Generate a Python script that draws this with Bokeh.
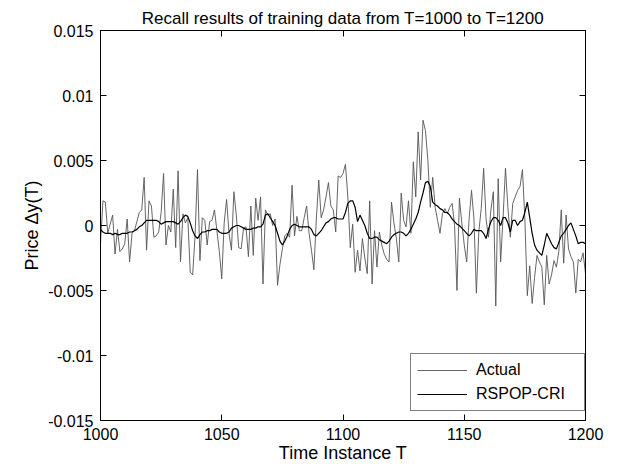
from bokeh.plotting import figure
from bokeh.models import (Range1d, FixedTicker, LinearAxis, Legend, LegendItem,
                          ColumnDataSource, CustomLabelingPolicy)
from bokeh.embed import file_html
from bokeh.resources import INLINE

# ---------------- data ----------------
time_instance = list(range(1000, 1201))

actual = [
    -0.0014, 0.0019, 0.0018, -0.0006, 0.0001, 0.0008, -0.0022, -0.0003, -0.0020, -0.0018,
    -0.0014, 0.0005, -0.0028, -0.0006, -0.0004, 0.0003, 0.0010, 0.0012, 0.0037, -0.0019,
    0.0019, 0.0015, -0.0009, -0.0008, -0.0005, 0.0010, 0.0040, -0.0015, 0.0000, -0.0005,
    0.0028, -0.0017, 0.0042, -0.0028, 0.0009, 0.0002, 0.0006, -0.0036, -0.0038, -0.0008,
    0.0043, -0.0027, 0.0006, 0.0004, -0.0015, 0.0003, 0.0004, 0.0012, -0.0004, -0.0020,
    -0.0041, 0.0002, 0.0020, -0.0006, -0.0019, 0.0026, 0.0008, -0.0017, -0.0018, -0.0002,
    -0.0001, -0.0024, 0.0015, -0.0023, 0.0021, 0.0004, 0.0022, -0.0045, 0.0012, 0.0008,
    0.0009, 0.0000, 0.0005, -0.0046, -0.0030, -0.0018, -0.0008, -0.0006, -0.0009, 0.0031,
    -0.0008, 0.0007, -0.0004, -0.0004, 0.0006, 0.0015, -0.0006, -0.0019, -0.0034, 0.0005,
    0.0035, 0.0006, 0.0012, 0.0022, 0.0033, 0.0015, 0.0012, -0.0005, 0.0038, 0.0037,
    0.0040, 0.0047, 0.0022, -0.0017, 0.0001, -0.0036, -0.0019, -0.0035, -0.0010, -0.0025,
    -0.0037, 0.0019, -0.0045, -0.0004, -0.0032, -0.0005, -0.0015, -0.0022, -0.0026, -0.0028,
    0.0018, 0.0002, -0.0010, -0.0028, 0.0025, 0.0004, -0.0001, 0.0019, -0.0006, 0.0049,
    0.0022, 0.0072, 0.0035, 0.0081, 0.0073, 0.0050, 0.0014, 0.0037, 0.0014, 0.0004,
    -0.0006, 0.0009, 0.0013, 0.0009, 0.0014, 0.0017, 0.0000, -0.0050, 0.0021, 0.0002,
    -0.0015, -0.0028, 0.0005, 0.0027, 0.0005, -0.0052, -0.0005, 0.0013, 0.0044, 0.0005,
    -0.0009, 0.0012, 0.0026, -0.0062, 0.0036, -0.0028, 0.0006, 0.0044, 0.0014, -0.0009,
    0.0017, 0.0022, 0.0027, 0.0030, 0.0043, 0.0005, -0.0054, -0.0031, -0.0060, -0.0040,
    -0.0023, -0.0028, -0.0032, -0.0061, -0.0023, -0.0045, -0.0038, -0.0027, -0.0032, -0.0020,
    0.0012, -0.0029, 0.0008, -0.0018, -0.0024, -0.0028, -0.0052, -0.0026, -0.0028, -0.0021,
    -0.0037,
]

rspop_cri = [
    -0.0003, -0.0005, -0.0006, -0.0006, -0.0006, -0.0007, -0.0006, -0.0007, -0.0007, -0.0006,
    -0.0006, -0.0006, -0.0005, -0.0005, -0.0004, -0.0003, -0.0001, 0.0000, 0.0002, 0.0004,
    0.0004, 0.0004, 0.0004, 0.0004, 0.0003, 0.0001, 0.0002, 0.0003, 0.0003, 0.0003,
    0.0003, 0.0002, 0.0001, 0.0003, 0.0006, 0.0008, 0.0007, 0.0002, -0.0004, -0.0008,
    -0.0010, -0.0007, -0.0005, -0.0005, -0.0004, -0.0004, -0.0003, -0.0003, -0.0003, -0.0005,
    -0.0006, -0.0006, -0.0006, -0.0005, -0.0002, -0.0001, 0.0000, 0.0000, -0.0001, -0.0002,
    -0.0003, -0.0003, -0.0003, -0.0002, -0.0002, -0.0001, -0.0001, 0.0001, 0.0008, 0.0009,
    0.0006, 0.0003, 0.0000, -0.0006, -0.0012, -0.0015, -0.0012, -0.0008, -0.0003, 0.0000,
    0.0001, 0.0000, -0.0001, -0.0001, -0.0001, -0.0001, -0.0001, -0.0003, -0.0007, -0.0008,
    -0.0006, -0.0004, -0.0001, 0.0002, 0.0003, 0.0005, 0.0006, 0.0006, 0.0005, 0.0005,
    0.0005, 0.0010, 0.0017, 0.0019, 0.0019, 0.0014, 0.0003, 0.0008, 0.0004, 0.0000,
    -0.0006, -0.0010, -0.0010, -0.0009, -0.0009, -0.0011, -0.0012, -0.0013, -0.0014, -0.0012,
    -0.0009, -0.0007, -0.0006, -0.0005, -0.0005, -0.0006, -0.0008, -0.0006, -0.0003, 0.0001,
    0.0005, 0.0010, 0.0018, 0.0025, 0.0033, 0.0034, 0.0030, 0.0018, 0.0016, 0.0015,
    0.0013, 0.0012, 0.0010, 0.0010, 0.0008, 0.0005, 0.0003, 0.0001, 0.0000, -0.0002,
    -0.0004, -0.0006, -0.0008, -0.0006, -0.0003, -0.0004, -0.0004, -0.0004, -0.0006, -0.0010,
    -0.0003, 0.0003, 0.0006, 0.0006, 0.0004, 0.0000, 0.0006, 0.0006, 0.0002, -0.0005,
    0.0004, 0.0004, 0.0000, 0.0003, 0.0004, 0.0010, 0.0018, 0.0006, -0.0006, -0.0015,
    -0.0019, -0.0021, -0.0023, -0.0015, -0.0006, -0.0010, -0.0014, -0.0017, -0.0018, -0.0013,
    -0.0008, -0.0006, -0.0003, 0.0000, 0.0002, -0.0003, -0.0008, -0.0014, -0.0013, -0.0013,
    -0.0014,
]

x_ticks = [1000, 1050, 1100, 1150, 1200]
y_ticks = [-0.015, -0.01, -0.005, 0, 0.005, 0.01, 0.015]
y_tick_labels = ["-0.015", "-0.01", "-0.005", "0", "0.005", "0.01", "0.015"]

series_names = ["Actual", "RSPOP-CRI"]
title_text = "Recall results of training data from T=1000 to T=1200"
x_label = "Time Instance T"
y_label = "Price \u0394y(T)"

# ---------------- figure ----------------
FONT = "Liberation Sans"

p = figure(width=630, height=466, output_backend="svg", toolbar_location=None,
           x_range=Range1d(1000, 1200), y_range=Range1d(-0.015, 0.015),
           min_border_left=100, min_border_right=45, min_border_top=30, min_border_bottom=46)
p.xgrid.visible = False
p.ygrid.visible = False
p.outline_line_color = "black"
p.outline_line_width = 1
p.background_fill_color = "white"
p.border_fill_color = "white"

src = ColumnDataSource(dict(t=time_instance, actual=actual, rspop=rspop_cri))
r1 = p.line("t", "actual", source=src, line_color="#555555", line_width=0.9)
r2 = p.line("t", "rspop", source=src, line_color="#000000", line_width=1.2)

xt = FixedTicker(ticks=x_ticks)
yt = FixedTicker(ticks=y_ticks)

bottom_axis = p.below[0]
left_axis = p.left[0]
bottom_axis.ticker = xt
left_axis.ticker = yt
left_axis.major_label_overrides = {v: s for v, s in zip(y_ticks, y_tick_labels)}

top_axis = LinearAxis(ticker=xt)
right_axis = LinearAxis(ticker=yt)
p.add_layout(top_axis, "above")
p.add_layout(right_axis, "right")

for ax in [bottom_axis, left_axis, top_axis, right_axis]:
    ax.major_tick_in = 6
    ax.major_tick_out = 0
    ax.minor_tick_line_color = None
    ax.axis_line_color = "black"
    ax.major_tick_line_color = "black"
    ax.major_label_text_font = FONT
    ax.major_label_text_font_size = "16px"
    ax.major_label_text_color = "black"
    ax.major_label_standoff = 7

hide_all = CustomLabelingPolicy(code="for (const i of indices) indices.unset(i); return indices")
for ax in [top_axis, right_axis]:
    ax.major_label_text_font_size = "0px"
    ax.major_label_standoff = 0
    ax.major_label_policy = hide_all

bottom_axis.axis_label = x_label
bottom_axis.axis_label_text_font = FONT
bottom_axis.axis_label_text_font_size = "18px"
bottom_axis.axis_label_text_font_style = "normal"
bottom_axis.axis_label_text_color = "black"
bottom_axis.axis_label_standoff = 0

left_axis.axis_label = y_label
left_axis.axis_label_text_font = FONT
left_axis.axis_label_text_font_size = "18px"
left_axis.axis_label_text_font_style = "normal"
left_axis.axis_label_text_color = "black"
left_axis.axis_label_standoff = 3

p.title.text = title_text
p.title.align = "center"
p.title.text_font = FONT
p.title.text_font_size = "17px"
p.title.text_font_style = "normal"
p.title.text_color = "black"
p.title.standoff = 6

# legend
legend = Legend(items=[LegendItem(label=series_names[0], renderers=[r1]),
                       LegendItem(label=series_names[1], renderers=[r2])],
                location=(310, 9))
legend.border_line_color = "black"
legend.border_line_width = 1
legend.background_fill_color = "white"
legend.background_fill_alpha = 1
legend.label_text_font = FONT
legend.label_text_font_size = "16px"
legend.label_text_color = "black"
legend.glyph_width = 50
legend.glyph_height = 20
legend.label_height = 20
legend.label_width = 102
legend.label_standoff = 9
legend.padding = 6
legend.spacing = 4
legend.margin = 0
p.add_layout(legend)

open("out.html", "w").write(file_html(p, INLINE))
